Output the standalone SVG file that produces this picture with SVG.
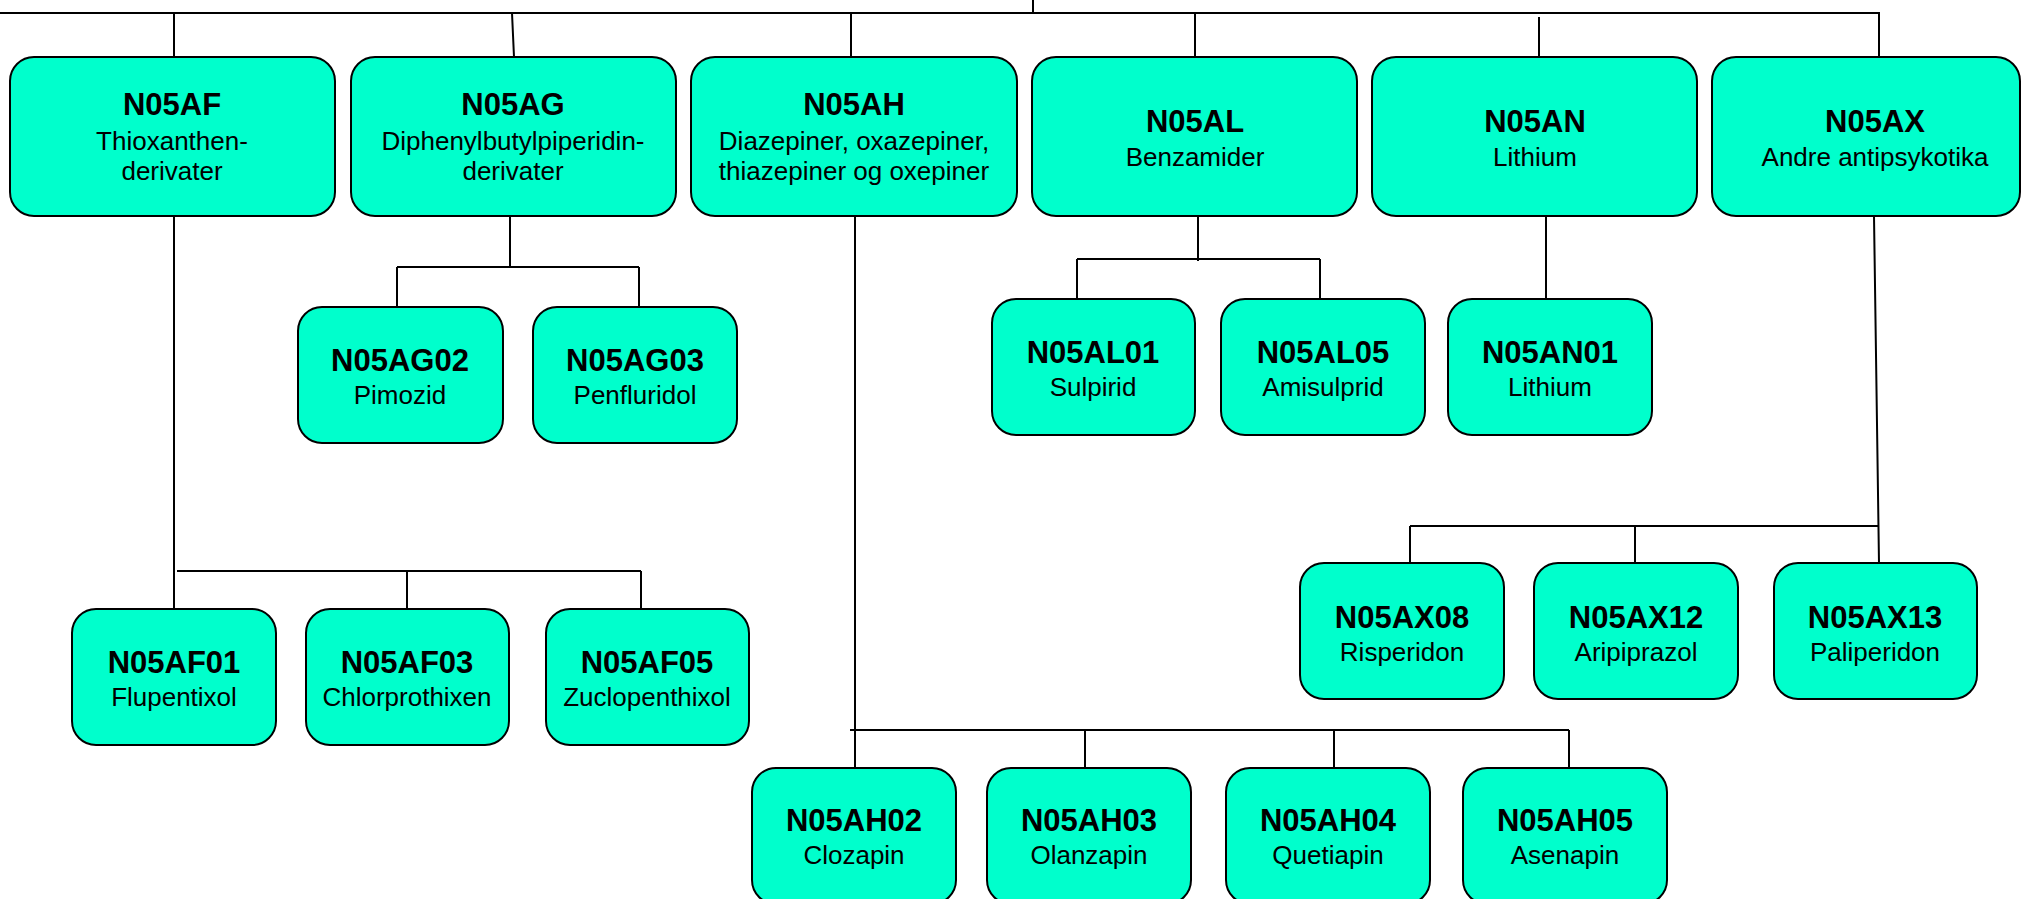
<svg xmlns="http://www.w3.org/2000/svg" width="2022" height="899" viewBox="0 0 2022 899">
<style>
.box{fill:#00FFCC;stroke:#000;stroke-width:2}
.c{fill:none;stroke:#000;stroke-width:2}
.t{font-family:"Liberation Sans",Arial,sans-serif;font-weight:bold;font-size:31px;text-anchor:middle;fill:#000}
.s{font-family:"Liberation Sans",Arial,sans-serif;font-size:26px;text-anchor:middle;fill:#000}
</style>
<rect width="2022" height="899" fill="#fff"/>
<g id="connectors">
<path class="c" d="M0 13H1879V57M1033 0V13"/>
<path class="c" d="M174 13V57M512 13L514 57M851 13V57M1195 13V57M1539 17V57"/>
<path class="c" d="M510 216V267M397 267H639M397 267V307M639 267V307"/>
<path class="c" d="M1198 216V261M1077 259H1320M1077 259V299M1320 259V299"/>
<path class="c" d="M1546 216V299"/>
<path class="c" d="M174 216V609M177 571H641M407 571V609M641 571V609"/>
<path class="c" d="M1874 216L1879 563M1410 526H1879M1410 526V563M1635 526V563"/>
<path class="c" d="M855 216V768M850 730H1569M1085 730V768M1334 730V768M1569 730V768"/>
</g>
<g id="N05AF"><rect class="box" x="10" y="57" width="325" height="159" rx="24"/><text class="t" x="172" y="115">N05AF</text><text class="s" x="172" y="150">Thioxanthen-</text><text class="s" x="172" y="180">derivater</text></g>
<g id="N05AG"><rect class="box" x="351" y="57" width="325" height="159" rx="24"/><text class="t" x="513" y="115">N05AG</text><text class="s" x="513" y="150">Diphenylbutylpiperidin-</text><text class="s" x="513" y="180">derivater</text></g>
<g id="N05AH"><rect class="box" x="691" y="57" width="326" height="159" rx="24"/><text class="t" x="854" y="115">N05AH</text><text class="s" x="854" y="150">Diazepiner, oxazepiner,</text><text class="s" x="854" y="180">thiazepiner og oxepiner</text></g>
<g id="N05AL"><rect class="box" x="1032" y="57" width="325" height="159" rx="24"/><text class="t" x="1195" y="132">N05AL</text><text class="s" x="1195" y="166">Benzamider</text></g>
<g id="N05AN"><rect class="box" x="1372" y="57" width="325" height="159" rx="24"/><text class="t" x="1535" y="132">N05AN</text><text class="s" x="1535" y="166">Lithium</text></g>
<g id="N05AX"><rect class="box" x="1712" y="57" width="308" height="159" rx="24"/><text class="t" x="1875" y="132">N05AX</text><text class="s" x="1875" y="166">Andre antipsykotika</text></g>
<g id="N05AG02"><rect class="box" x="298" y="307" width="205" height="136" rx="24"/><text class="t" x="400" y="371">N05AG02</text><text class="s" x="400" y="404">Pimozid</text></g>
<g id="N05AG03"><rect class="box" x="533" y="307" width="204" height="136" rx="24"/><text class="t" x="635" y="371">N05AG03</text><text class="s" x="635" y="404">Penfluridol</text></g>
<g id="N05AL01"><rect class="box" x="992" y="299" width="203" height="136" rx="24"/><text class="t" x="1093" y="363">N05AL01</text><text class="s" x="1093" y="396">Sulpirid</text></g>
<g id="N05AL05"><rect class="box" x="1221" y="299" width="204" height="136" rx="24"/><text class="t" x="1323" y="363">N05AL05</text><text class="s" x="1323" y="396">Amisulprid</text></g>
<g id="N05AN01"><rect class="box" x="1448" y="299" width="204" height="136" rx="24"/><text class="t" x="1550" y="363">N05AN01</text><text class="s" x="1550" y="396">Lithium</text></g>
<g id="N05AF01"><rect class="box" x="72" y="609" width="204" height="136" rx="24"/><text class="t" x="174" y="673">N05AF01</text><text class="s" x="174" y="706">Flupentixol</text></g>
<g id="N05AF03"><rect class="box" x="306" y="609" width="203" height="136" rx="24"/><text class="t" x="407" y="673">N05AF03</text><text class="s" x="407" y="706">Chlorprothixen</text></g>
<g id="N05AF05"><rect class="box" x="546" y="609" width="203" height="136" rx="24"/><text class="t" x="647" y="673">N05AF05</text><text class="s" x="647" y="706">Zuclopenthixol</text></g>
<g id="N05AX08"><rect class="box" x="1300" y="563" width="204" height="136" rx="24"/><text class="t" x="1402" y="628">N05AX08</text><text class="s" x="1402" y="661">Risperidon</text></g>
<g id="N05AX12"><rect class="box" x="1534" y="563" width="204" height="136" rx="24"/><text class="t" x="1636" y="628">N05AX12</text><text class="s" x="1636" y="661">Aripiprazol</text></g>
<g id="N05AX13"><rect class="box" x="1774" y="563" width="203" height="136" rx="24"/><text class="t" x="1875" y="628">N05AX13</text><text class="s" x="1875" y="661">Paliperidon</text></g>
<g id="N05AH02"><rect class="box" x="752" y="768" width="204" height="136" rx="24"/><text class="t" x="854" y="831">N05AH02</text><text class="s" x="854" y="864">Clozapin</text></g>
<g id="N05AH03"><rect class="box" x="987" y="768" width="204" height="136" rx="24"/><text class="t" x="1089" y="831">N05AH03</text><text class="s" x="1089" y="864">Olanzapin</text></g>
<g id="N05AH04"><rect class="box" x="1226" y="768" width="204" height="136" rx="24"/><text class="t" x="1328" y="831">N05AH04</text><text class="s" x="1328" y="864">Quetiapin</text></g>
<g id="N05AH05"><rect class="box" x="1463" y="768" width="204" height="136" rx="24"/><text class="t" x="1565" y="831">N05AH05</text><text class="s" x="1565" y="864">Asenapin</text></g>
</svg>
